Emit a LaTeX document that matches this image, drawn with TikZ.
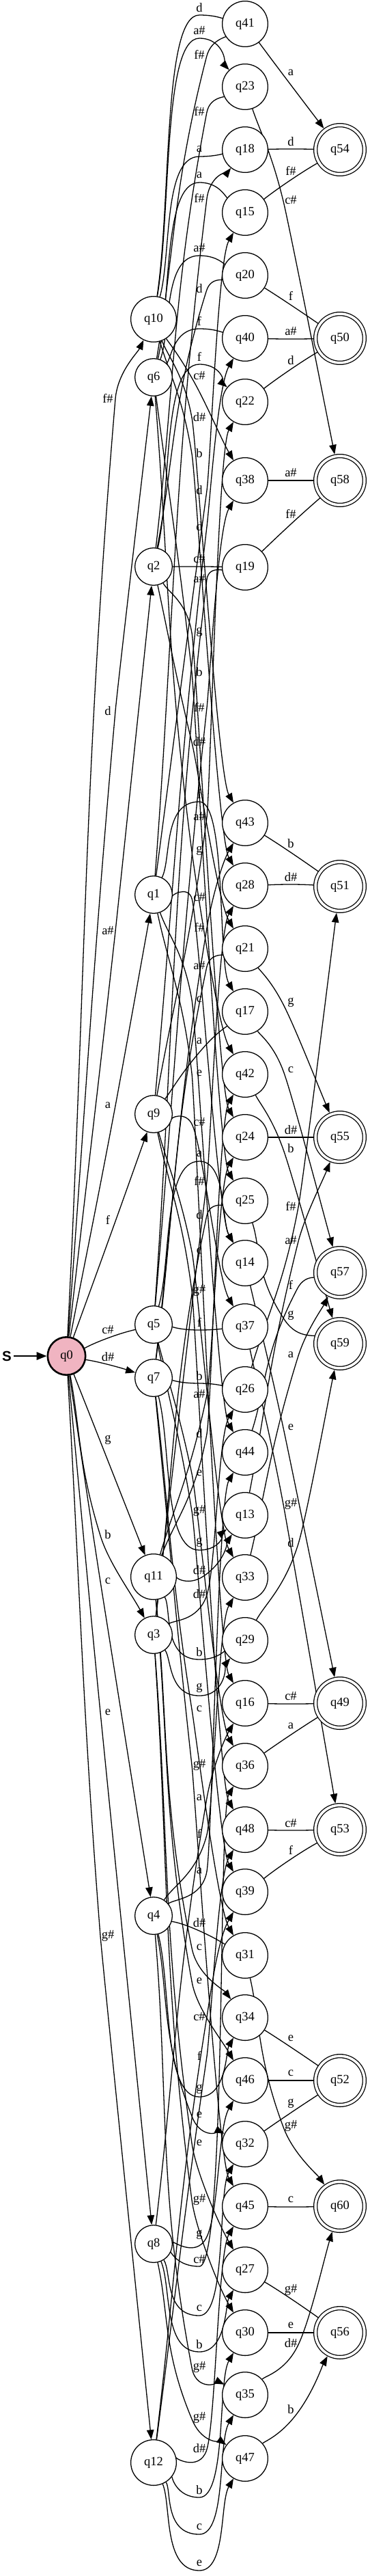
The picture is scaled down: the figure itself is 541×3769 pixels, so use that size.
\documentclass[tikz,border=0pt]{standalone}
\usepackage{fontspec}
\setmainfont{Liberation Serif}
\setsansfont{Liberation Sans}
\usetikzlibrary{
  arrows.meta,
  backgrounds
}
\definecolor{startcolor}{HTML}{F0B4C1}

% one transition: from, to, label, label x, label y, enter from the left side (1) or not (0)
\newcommand\trans[6]{%
  \pgfpointanchor{#1}{center}\pgfgetlastxy{\trsx}{\trsy}%
  \pgfpointanchor{#2}{center}\pgfgetlastxy{\trtx}{\trty}%
  \pgfmathsetmacro\trsx{\trsx}\pgfmathsetmacro\trsy{\trsy}%
  \pgfmathsetmacro\trtx{\trtx}\pgfmathsetmacro\trty{\trty}%
  \pgfmathsetmacro\trly{-#5}%
  \pgfmathsetmacro\trw{ifthenelse(and((\trly)<max((\trsy),(\trty)),(\trly)>min((\trsy),(\trty))),atan2((\trty)-(\trsy),(\trtx)-(\trsx)),0)}%
  \pgfmathsetmacro\trwx{#4+11*sin(\trw)}%
  \pgfmathsetmacro\trwy{(\trly)-11*cos(\trw)}%
  % first piece, up to the point beside the label
  \pgfmathsetmacro\trda{0.39*(max(abs((\trwx)-(\trsx)),abs((\trwy)-(\trsy)))+0.4*min(abs((\trwx)-(\trsx)),abs((\trwy)-(\trsy))))}%
  \pgfmathsetmacro\trda{min(\trda,ifthenelse(\trw==0,0.8*abs((\trwx)-(\trsx)),\trda))}%
  \pgfmathsetmacro\trax{(\trsx)+0.39*((\trwx)-(\trsx))}%
  \pgfmathsetmacro\tray{(\trsy)+0.39*((\trwy)-(\trsy))}%
  \pgfmathsetmacro\trbx{(\trwx)-(\trda)*cos(\trw)}%
  \pgfmathsetmacro\trby{(\trwy)-(\trda)*sin(\trw)}%
  % second piece, on into the target
  \pgfmathsetmacro\trdb{0.39*(max(abs((\trtx)-(\trwx)),abs((\trty)-(\trwy)))+0.4*min(abs((\trtx)-(\trwx)),abs((\trty)-(\trwy))))}%
  \pgfmathsetmacro\trin{mod(atan2((\trwy)-(\trty),(\trwx)-(\trtx))+360,360)}%
  \pgfmathsetmacro\trin{ifthenelse(#6,max(120,min(240,\trin)),\trin)}%
  \pgfmathsetmacro\trcx{(\trwx)+min(40,\trdb)*cos(\trw)}%
  \pgfmathsetmacro\trcy{(\trwy)+min(40,\trdb)*sin(\trw)}%
  \pgfmathsetmacro\trdx{(\trtx)+min(80,\trdb)*cos(\trin)}%
  \pgfmathsetmacro\trdy{(\trty)+min(80,\trdb)*sin(\trin)}%
  \draw[tra] (#1) .. controls (\trax pt,\tray pt) and (\trbx pt,\trby pt) .. (\trwx pt,\trwy pt)
    .. controls (\trcx pt,\trcy pt) and (\trdx pt,\trdy pt) .. (#2)
    node[lab] at (#4,#5) {#3};%
}

\begin{document}
\begin{tikzpicture}[
  x=1pt, y=-1pt,
  >={Triangle[length=14pt,width=10.5pt]},
  qnode/.style={circle, draw, fill=white, line width=1.3pt, minimum size=66.7pt, inner sep=0pt,
    font=\fontsize{18.5}{19}\selectfont},
  qsmall/.style={qnode, minimum size=54.7pt},
  qfinal/.style={qnode, double, double distance=3.7pt, minimum size=71.7pt, outer sep=3.15pt},
  qstart/.style={qnode, minimum size=55.4pt, line width=2.6pt, fill=startcolor},
  tra/.style={->, line width=1.3pt},
  lab/.style={font=\fontsize{18.5}{19}\selectfont, inner sep=0pt},
]
  \useasboundingbox (0,0) rectangle (541,3769);

  % start
  \node[font=\sffamily\bfseries\fontsize{20.5}{21}\selectfont] (s) at (10,1984) {S};
  \node[qstart] (q0) at (97.5,1984) {q0};

  % first note
  \node[qnode]  (q10) at (225,467)  {q10};
  \node[qsmall] (q6)  at (225,552)  {q6};
  \node[qsmall] (q2)  at (225,829)  {q2};
  \node[qsmall] (q1)  at (225,1309) {q1};
  \node[qsmall] (q9)  at (225,1630) {q9};
  \node[qsmall] (q5)  at (225,1938) {q5};
  \node[qsmall] (q7)  at (225,2016) {q7};
  \node[qnode]  (q11) at (225,2307) {q11};
  \node[qsmall] (q3)  at (225,2392) {q3};
  \node[qsmall] (q4)  at (225,2803) {q4};
  \node[qsmall] (q8)  at (225,3283) {q8};
  \node[qnode]  (q12) at (225,3603) {q12};

  % second note
  \node[qnode] (q41) at (359,35)   {q41};
  \node[qnode] (q23) at (359,127)  {q23};
  \node[qnode] (q18) at (359,219)  {q18};
  \node[qnode] (q15) at (359,311)  {q15};
  \node[qnode] (q20) at (359,403)  {q20};
  \node[qnode] (q40) at (359,495)  {q40};
  \node[qnode] (q22) at (359,588)  {q22};
  \node[qnode] (q38) at (359,703)  {q38};
  \node[qnode] (q19) at (359,830)  {q19};
  \node[qnode] (q43) at (359,1204) {q43};
  \node[qnode] (q28) at (359,1296) {q28};
  \node[qnode] (q21) at (359,1388) {q21};
  \node[qnode] (q17) at (359,1480) {q17};
  \node[qnode] (q42) at (359,1572) {q42};
  \node[qnode] (q24) at (359,1664) {q24};
  \node[qnode] (q25) at (359,1757) {q25};
  \node[qnode] (q14) at (359,1848) {q14};
  \node[qnode] (q37) at (359,1941) {q37};
  \node[qnode] (q26) at (359,2033) {q26};
  \node[qnode] (q44) at (359,2125) {q44};
  \node[qnode] (q13) at (359,2217) {q13};
  \node[qnode] (q33) at (359,2308) {q33};
  \node[qnode] (q29) at (359,2400) {q29};
  \node[qnode] (q16) at (359,2492) {q16};
  \node[qnode] (q36) at (359,2584) {q36};
  \node[qnode] (q48) at (359,2677) {q48};
  \node[qnode] (q39) at (359,2768) {q39};
  \node[qnode] (q31) at (359,2861) {q31};
  \node[qnode] (q34) at (359,2952) {q34};
  \node[qnode] (q46) at (359,3044) {q46};
  \node[qnode] (q32) at (359,3137) {q32};
  \node[qnode] (q45) at (359,3228) {q45};
  \node[qnode] (q27) at (359,3321) {q27};
  \node[qnode] (q30) at (359,3413) {q30};
  \node[qnode] (q35) at (359,3504) {q35};
  \node[qnode] (q47) at (359,3597) {q47};

  % accepting states
  \node[qfinal] (q54) at (498,219)  {q54};
  \node[qfinal] (q50) at (498,495)  {q50};
  \node[qfinal] (q58) at (498,703)  {q58};
  \node[qfinal] (q51) at (498,1297) {q51};
  \node[qfinal] (q55) at (498,1664) {q55};
  \node[qfinal] (q57) at (498,1862) {q57};
  \node[qfinal] (q59) at (498,1966) {q59};
  \node[qfinal] (q49) at (498,2492) {q49};
  \node[qfinal] (q53) at (498,2677) {q53};
  \node[qfinal] (q52) at (498,3044) {q52};
  \node[qfinal] (q60) at (498,3228) {q60};
  \node[qfinal] (q56) at (498,3413) {q56};

  \begin{scope}[on background layer]
  \draw[-{Triangle[length=15pt,width=11.5pt]}, line width=2.2pt] (s) -- (q0);

  % from q0
  \trans{q0}{q10}{f\#}{158}{583}{0}
  \trans{q0}{q6}{d}{158}{1040}{0}
  \trans{q0}{q2}{a\#}{158}{1362}{0}
  \trans{q0}{q1}{a}{158}{1617}{0}
  \trans{q0}{q9}{f}{158}{1785}{0}
  \trans{q0}{q5}{c\#}{158}{1946}{0}
  \trans{q0}{q7}{d\#}{158}{1985}{0}
  \trans{q0}{q11}{g}{158}{2107}{0}
  \trans{q0}{q3}{b}{158}{2245}{0}
  \trans{q0}{q4}{c}{158}{2313}{0}
  \trans{q0}{q8}{e}{158}{2505}{0}
  \trans{q0}{q12}{g\#}{158}{2832}{0}

  % from q10
  \trans{q10}{q41}{d}{292}{11}{1}
  \trans{q10}{q23}{a\#}{292}{45}{1}
  \trans{q10}{q18}{a}{292}{218}{1}
  \trans{q10}{q38}{c\#}{292}{550}{1}
  \trans{q10}{q43}{d\#}{292}{610}{1}
  \trans{q10}{q28}{b}{292}{663}{1}
  % from q6
  \trans{q6}{q41}{f\#}{292}{80}{1}
  \trans{q6}{q15}{a}{292}{256}{1}
  \trans{q6}{q20}{a\#}{292}{363}{1}
  \trans{q6}{q40}{f}{292}{470}{1}
  \trans{q6}{q25}{b}{292}{983}{1}
  \trans{q6}{q42}{g}{292}{1245}{1}
  % from q2
  \trans{q2}{q23}{f\#}{292}{163}{1}
  \trans{q2}{q20}{d}{292}{422}{1}
  \trans{q2}{q22}{f}{292}{522}{1}
  \trans{q2}{q19}{c\#}{292}{818}{1}
  \trans{q2}{q24}{g}{292}{925}{1}
  \trans{q2}{q21}{d\#}{292}{1085}{1}
  % from q1
  \trans{q1}{q18}{f\#}{292}{290}{1}
  \trans{q1}{q15}{d}{292}{717}{1}
  \trans{q1}{q17}{f}{292}{1162}{1}
  \trans{q1}{q14}{c\#}{292}{1313}{1}
  \trans{q1}{q44}{c}{292}{1462}{1}
  \trans{q1}{q16}{e}{292}{1570}{1}
  % from q9
  \trans{q9}{q40}{d}{292}{770}{1}
  \trans{q9}{q22}{a\#}{292}{1195}{1}
  \trans{q9}{q17}{a}{292}{1523}{1}
  \trans{q9}{q37}{c\#}{292}{1642}{1}
  \trans{q9}{q33}{c}{292}{1830}{1}
  \trans{q9}{q48}{g\#}{292}{1888}{1}
  % from q5
  \trans{q5}{q19}{a\#}{292}{847}{1}
  \trans{q5}{q38}{f\#}{292}{1035}{1}
  \trans{q5}{q14}{a}{292}{1688}{1}
  \trans{q5}{q37}{f}{292}{1935}{1}
  \trans{q5}{q36}{e}{292}{2155}{1}
  \trans{q5}{q39}{g\#}{292}{2210}{1}
  % from q7
  \trans{q7}{q43}{f\#}{292}{1357}{1}
  \trans{q7}{q21}{a\#}{292}{1413}{1}
  \trans{q7}{q26}{b}{292}{2013}{1}
  \trans{q7}{q13}{g}{292}{2257}{1}
  \trans{q7}{q31}{c}{292}{2500}{1}
  \trans{q7}{q45}{g\#}{292}{2582}{1}
  % from q11
  \trans{q11}{q24}{a\#}{292}{2040}{1}
  \trans{q11}{q42}{d}{292}{2097}{1}
  \trans{q11}{q13}{d\#}{292}{2297}{1}
  \trans{q11}{q29}{b}{292}{2417}{1}
  \trans{q11}{q34}{c}{292}{2849}{1}
  \trans{q11}{q46}{e}{292}{2898}{1}
  % from q3
  \trans{q3}{q28}{f\#}{292}{1728}{1}
  \trans{q3}{q25}{d}{292}{1777}{1}
  \trans{q3}{q26}{d\#}{292}{2332}{1}
  \trans{q3}{q29}{g}{292}{2470}{1}
  \trans{q3}{q27}{e}{292}{3135}{1}
  \trans{q3}{q30}{g\#}{292}{3218}{1}
  % from q4
  \trans{q4}{q33}{f}{292}{2683}{1}
  \trans{q4}{q44}{a}{292}{2737}{1}
  \trans{q4}{q31}{d\#}{292}{2813}{1}
  \trans{q4}{q34}{g}{292}{3057}{1}
  \trans{q4}{q32}{e}{292}{3094}{1}
  \trans{q4}{q35}{g\#}{292}{3463}{1}
  % from q8
  \trans{q8}{q16}{a}{292}{2630}{1}
  \trans{q8}{q46}{g}{292}{3270}{1}
  \trans{q8}{q36}{c\#}{292}{3305}{1}
  \trans{q8}{q32}{c}{292}{3377}{1}
  \trans{q8}{q27}{b}{292}{3430}{1}
  \trans{q8}{q47}{g\#}{292}{3537}{1}
  % from q12
  \trans{q12}{q39}{c\#}{292}{2950}{1}
  \trans{q12}{q48}{f}{292}{3008}{1}
  \trans{q12}{q45}{d\#}{292}{3582}{1}
  \trans{q12}{q30}{b}{292}{3643}{1}
  \trans{q12}{q35}{c}{292}{3697}{1}
  \trans{q12}{q47}{e}{292}{3750}{1}

  % into the accepting states
  \trans{q41}{q54}{a}{426}{106}{0}
  \trans{q18}{q54}{d}{426}{207}{0}
  \trans{q15}{q54}{f\#}{426}{250}{0}
  \trans{q23}{q58}{c\#}{426}{293}{0}
  \trans{q20}{q50}{f}{426}{433}{0}
  \trans{q40}{q50}{a\#}{426}{485}{0}
  \trans{q22}{q50}{d}{426}{527}{0}
  \trans{q38}{q58}{a\#}{426}{692}{0}
  \trans{q19}{q58}{f\#}{426}{752}{0}
  \trans{q43}{q51}{b}{426}{1234}{0}
  \trans{q28}{q51}{d\#}{426}{1283}{0}
  \trans{q21}{q55}{g}{426}{1467}{0}
  \trans{q17}{q57}{c}{426}{1565}{0}
  \trans{q24}{q55}{d\#}{426}{1653}{0}
  \trans{q42}{q59}{b}{426}{1680}{0}
  \trans{q26}{q51}{f\#}{426}{1765}{0}
  \trans{q13}{q55}{a\#}{426}{1815}{0}
  \trans{q44}{q57}{f}{426}{1880}{0}
  \trans{q25}{q59}{g}{426}{1925}{0}
  \trans{q33}{q57}{a}{426}{1982}{0}
  \trans{q14}{q49}{e}{426}{2088}{0}
  \trans{q37}{q53}{g\#}{426}{2200}{0}
  \trans{q29}{q59}{d}{426}{2257}{0}
  \trans{q16}{q49}{c\#}{426}{2482}{0}
  \trans{q36}{q49}{a}{426}{2525}{0}
  \trans{q48}{q53}{c\#}{426}{2667}{0}
  \trans{q39}{q53}{f}{426}{2707}{0}
  \trans{q34}{q52}{e}{426}{2982}{0}
  \trans{q46}{q52}{c}{426}{3033}{0}
  \trans{q32}{q52}{g}{426}{3078}{0}
  \trans{q31}{q60}{g\#}{426}{3110}{0}
  \trans{q45}{q60}{c}{426}{3218}{0}
  \trans{q27}{q56}{g\#}{426}{3350}{0}
  \trans{q30}{q56}{e}{426}{3402}{0}
  \trans{q35}{q60}{d\#}{426}{3428}{0}
  \trans{q47}{q56}{b}{426}{3525}{0}
  \end{scope}
\end{tikzpicture}
\end{document}
